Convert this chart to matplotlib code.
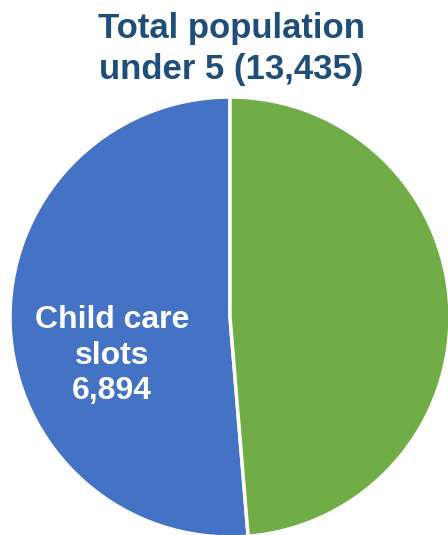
import matplotlib
matplotlib.use("Agg")
import matplotlib.pyplot as plt

# Данные
labels = ["Child care slots", "Other"]
values = [6894, 13435 - 6894]
colors = ["#4472C4", "#70AD47"]
total = 13435

fig = plt.figure(figsize=(4.48, 5.35), dpi=100)
ax = fig.add_axes([10 / 448, -2 / 535, 440 / 448, 440 / 535])

wedges, _ = ax.pie(values, colors=colors, startangle=90, counterclock=True,
                   radius=1.0, wedgeprops=dict(edgecolor="white", linewidth=2.5))
for w in wedges:
    w.set_clip_on(False)
ax.set_xlim(-1, 1)
ax.set_ylim(-1, 1)
ax.set_aspect("equal")
ax.axis("off")

ax.text(-0.536, -0.175, f"Child care\nslots\n{values[0]:,}", color="white",
        fontsize=23, fontweight="bold", family="Liberation Sans",
        ha="center", va="center", linespacing=1.22)

fig.text(231 / 448, 1 - 49 / 535, f"Total population\nunder 5 ({total:,})",
         color="#1F4E79", fontsize=25, fontweight="bold", family="Liberation Sans",
         ha="center", va="center", linespacing=1.33)

fig.savefig("out.png", dpi=100)
